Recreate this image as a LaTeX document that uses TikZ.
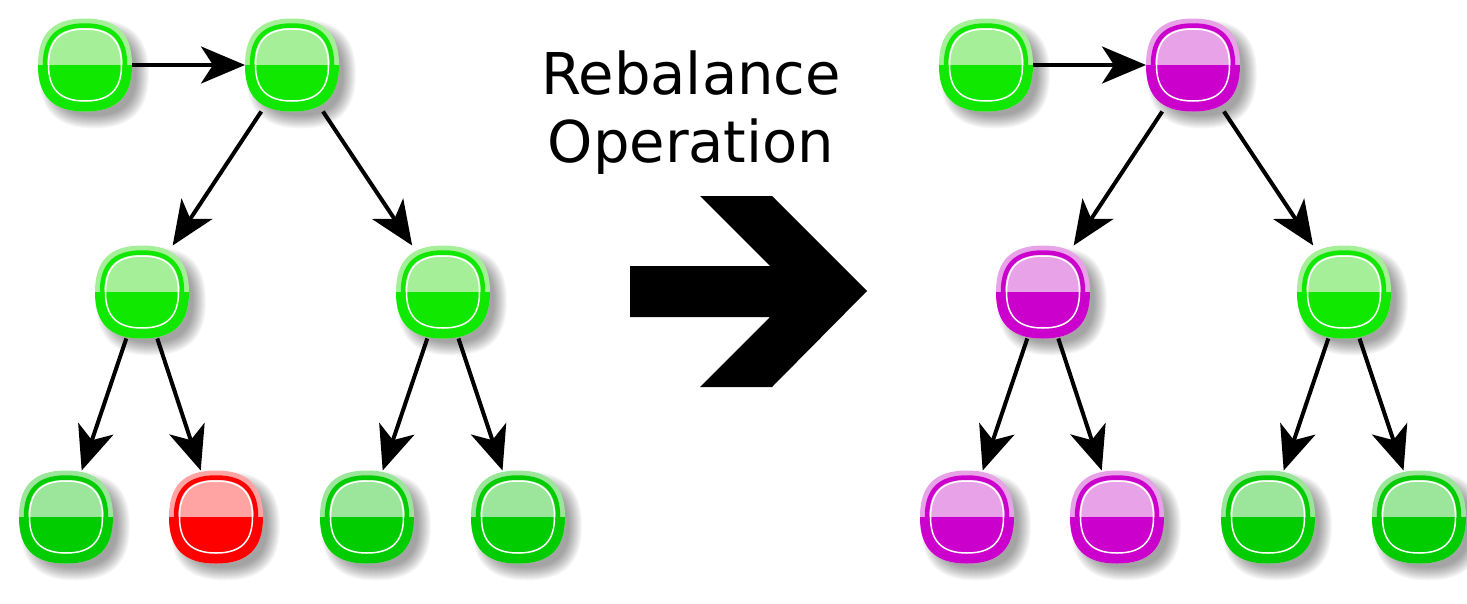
\documentclass[tikz,border=0pt]{standalone}
\usepackage{fontspec}
\setmainfont{DejaVu Sans}
\usetikzlibrary{arrows.meta}
\definecolor{gL}{HTML}{A4EF98}
\definecolor{gM}{HTML}{10E800}
\definecolor{dL}{HTML}{9BE69B}
\definecolor{dM}{HTML}{00CC00}
\definecolor{rL}{HTML}{FFA3A3}
\definecolor{rM}{HTML}{FF0000}
\definecolor{mL}{HTML}{E8A3E8}
\definecolor{mM}{HTML}{CC00CC}
\tikzset{
  ball/.style={rectangle, minimum width=94pt, minimum height=93pt, inner sep=0pt, outer sep=0pt},
  conn/.style={line width=4pt, -{Stealth[length=44pt,width=37pt,inset=12pt]}},
  title/.style={anchor=base, font=\fontsize{57.6}{68}\selectfont, inner sep=0pt},
}
% squircle path centred at (#1,#2), half sizes #3,#4
\newcommand\sq[4]{({(#1)+(#3)},{#2}) .. controls ({(#1)+(#3)},{(#2)+0.68*(#4)}) and ({(#1)+0.68*(#3)},{(#2)+(#4)}) .. ({#1},{(#2)+(#4)})
  .. controls ({(#1)-0.68*(#3)},{(#2)+(#4)}) and ({(#1)-(#3)},{(#2)+0.68*(#4)}) .. ({(#1)-(#3)},{#2})
  .. controls ({(#1)-(#3)},{(#2)-0.68*(#4)}) and ({(#1)-0.68*(#3)},{(#2)-(#4)}) .. ({#1},{(#2)-(#4)})
  .. controls ({(#1)+0.68*(#3)},{(#2)-(#4)}) and ({(#1)+(#3)},{(#2)-0.68*(#4)}) .. ({(#1)+(#3)},{#2}) -- cycle}
\newcommand\ballnode[4]{%
  \begin{scope}[shift={(#2,#3)}]
    \foreach \k in {-5,-4,...,8}{%
      \fill[black, opacity=0.032] \sq{9}{9}{47+\k}{46.5+\k};}
    \fill[#4L] \sq{0}{0}{47}{46.5};
    \begin{scope}
      \clip \sq{0}{0}{47}{46.5};
      \fill[#4M] (-48,0) rectangle (48,48);
    \end{scope}
    \draw[#4M, line width=4.5pt] \sq{0}{0}{40}{39.5};
    \draw[white, line width=1.5pt] \sq{0}{0}{36.5}{36};
  \end{scope}
  \node[ball] (#1) at (#2,#3) {};
}
\begin{document}
\begin{tikzpicture}[x=1pt, y=-1pt]
\useasboundingbox (0,0) rectangle (1467,603);
% left tree
\ballnode{A}{85}{65}{g}
\ballnode{B}{292}{65}{g}
\ballnode{C}{142}{292}{g}
\ballnode{D}{443}{292}{g}
\ballnode{E}{66}{517}{d}
\ballnode{F}{216}{517}{r}
\ballnode{G}{367}{517}{d}
\ballnode{H}{518}{517}{d}
% right tree
\ballnode{A2}{986}{65}{g}
\ballnode{B2}{1193}{65}{m}
\ballnode{C2}{1043}{292}{m}
\ballnode{D2}{1344}{292}{g}
\ballnode{E2}{967}{517}{m}
\ballnode{F2}{1117}{517}{m}
\ballnode{G2}{1268}{517}{d}
\ballnode{H2}{1419}{517}{d}
% connectors
\draw[conn] (A) -- (B);
\draw[conn] (B) -- (C);
\draw[conn] (B) -- (D);
\draw[conn] (C) -- (E);
\draw[conn] (C) -- (F);
\draw[conn] (D) -- (G);
\draw[conn] (D) -- (H);
\draw[conn] (A2) -- (B2);
\draw[conn] (B2) -- (C2);
\draw[conn] (B2) -- (D2);
\draw[conn] (C2) -- (E2);
\draw[conn] (C2) -- (F2);
\draw[conn] (D2) -- (G2);
\draw[conn] (D2) -- (H2);
% title
\node[title] (t1) at (691,94) {Rebalance};
\node[title] (t2) at (691,162) {Operation};
% big arrow
\fill (630,266) -- (770,266) -- (700,196) -- (772,196) -- (867,291) -- (772,387) -- (700,387) -- (770,317) -- (630,317) -- cycle;
\end{tikzpicture}
\end{document}
